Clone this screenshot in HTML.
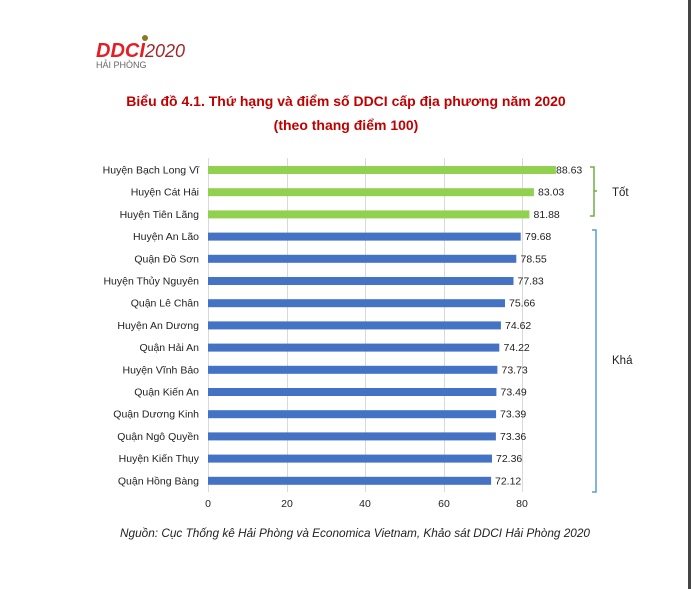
<!DOCTYPE html><html><head><meta charset="utf-8"><style>body{margin:0;background:#fff;width:691px;height:589px;overflow:hidden;font-family:"Liberation Sans",sans-serif}</style></head><body>
<svg width="691" height="589" xmlns="http://www.w3.org/2000/svg" font-family="Liberation Sans, sans-serif">
<rect x="688" y="0" width="3" height="589" fill="#444"/>
<text x="96" y="57" font-size="20" font-weight="bold" font-style="italic" fill="#e31e24">DDCI</text>
<text x="145" y="57" font-size="18" font-style="italic" fill="#a0282a">2020</text>
<circle cx="145" cy="38" r="3" fill="#8a7a20"/>
<text x="96" y="68" font-size="9" fill="#666">HẢI PHÒNG</text>
<text x="346" y="106" font-size="14" font-weight="bold" fill="#c00000" text-anchor="middle">Biểu đồ 4.1. Thứ hạng và điểm số DDCI cấp địa phương năm 2020</text>
<text x="346" y="130" font-size="14" font-weight="bold" fill="#c00000" text-anchor="middle">(theo thang điểm 100)</text>
<g stroke="#d9d9d9" stroke-width="1">
<line x1="208.5" y1="158" x2="208.5" y2="492"/><line x1="287.5" y1="158" x2="287.5" y2="492"/><line x1="365.5" y1="158" x2="365.5" y2="492"/><line x1="444.5" y1="158" x2="444.5" y2="492"/><line x1="522.5" y1="158" x2="522.5" y2="492"/></g>
<g font-size="10.5" fill="#222" text-anchor="middle">
<text x="208" y="507">0</text><text x="287" y="507">20</text><text x="365" y="507">40</text><text x="444" y="507">60</text><text x="522" y="507">80</text></g>
<g fill="#92d050">
<rect x="208" y="166" width="347.9" height="8"/>
<rect x="208" y="188.2" width="325.9" height="8"/>
<rect x="208" y="210.4" width="321.4" height="8"/>
</g>
<g fill="#4472c4">
<rect x="208" y="232.6" width="312.7" height="8"/>
<rect x="208" y="254.8" width="308.3" height="8"/>
<rect x="208" y="277" width="305.5" height="8"/>
<rect x="208" y="299.2" width="297" height="8"/>
<rect x="208" y="321.4" width="292.9" height="8"/>
<rect x="208" y="343.6" width="291.3" height="8"/>
<rect x="208" y="365.8" width="289.4" height="8"/>
<rect x="208" y="388" width="288.4" height="8"/>
<rect x="208" y="410.2" width="288.1" height="8"/>
<rect x="208" y="432.4" width="287.9" height="8"/>
<rect x="208" y="454.6" width="284" height="8"/>
<rect x="208" y="476.8" width="283.1" height="8"/>
</g>
<g font-size="10.5" fill="#222" text-anchor="end">
<text x="199" y="173.5">Huyện Bạch Long Vĩ</text>
<text x="199" y="195.7">Huyện Cát Hải</text>
<text x="199" y="217.9">Huyện Tiên Lãng</text>
<text x="199" y="240.1">Huyện An Lão</text>
<text x="199" y="262.3">Quận Đồ Sơn</text>
<text x="199" y="284.5">Huyện Thủy Nguyên</text>
<text x="199" y="306.7">Quận Lê Chân</text>
<text x="199" y="328.9">Huyện An Dương</text>
<text x="199" y="351.1">Quận Hải An</text>
<text x="199" y="373.3">Huyện Vĩnh Bảo</text>
<text x="199" y="395.5">Quận Kiến An</text>
<text x="199" y="417.7">Quận Dương Kinh</text>
<text x="199" y="439.9">Quận Ngô Quyền</text>
<text x="199" y="462.1">Huyện Kiến Thụy</text>
<text x="199" y="484.3">Quận Hồng Bàng</text>
</g>
<g font-size="10.5" fill="#222">
<text x="556" y="173.5">88.63</text>
<text x="538" y="195.7">83.03</text>
<text x="533.5" y="217.9">81.88</text>
<text x="525" y="240.1">79.68</text>
<text x="520.5" y="262.3">78.55</text>
<text x="517.5" y="284.5">77.83</text>
<text x="509" y="306.7">75.66</text>
<text x="505" y="328.9">74.62</text>
<text x="503.5" y="351.1">74.22</text>
<text x="501.5" y="373.3">73.73</text>
<text x="500.5" y="395.5">73.49</text>
<text x="500" y="417.7">73.39</text>
<text x="500" y="439.9">73.36</text>
<text x="496" y="462.1">72.36</text>
<text x="495" y="484.3">72.12</text>
</g>
<path d="M590 167 H594 V216 H590 M594 191 H597" stroke="#70ad47" stroke-width="1.5" fill="none"/>
<text x="612" y="196" font-size="11.5" fill="#222">Tốt</text>
<path d="M592 230 H596 V492 H592" stroke="#5b9bd5" stroke-width="1.5" fill="none"/>
<text x="612" y="364" font-size="11.5" fill="#222">Khá</text>
<text x="355" y="537" font-size="11.8" font-style="italic" fill="#222" text-anchor="middle">Nguồn: Cục Thống kê Hải Phòng và Economica Vietnam, Khảo sát DDCI Hải Phòng 2020</text>
</svg></body></html>
